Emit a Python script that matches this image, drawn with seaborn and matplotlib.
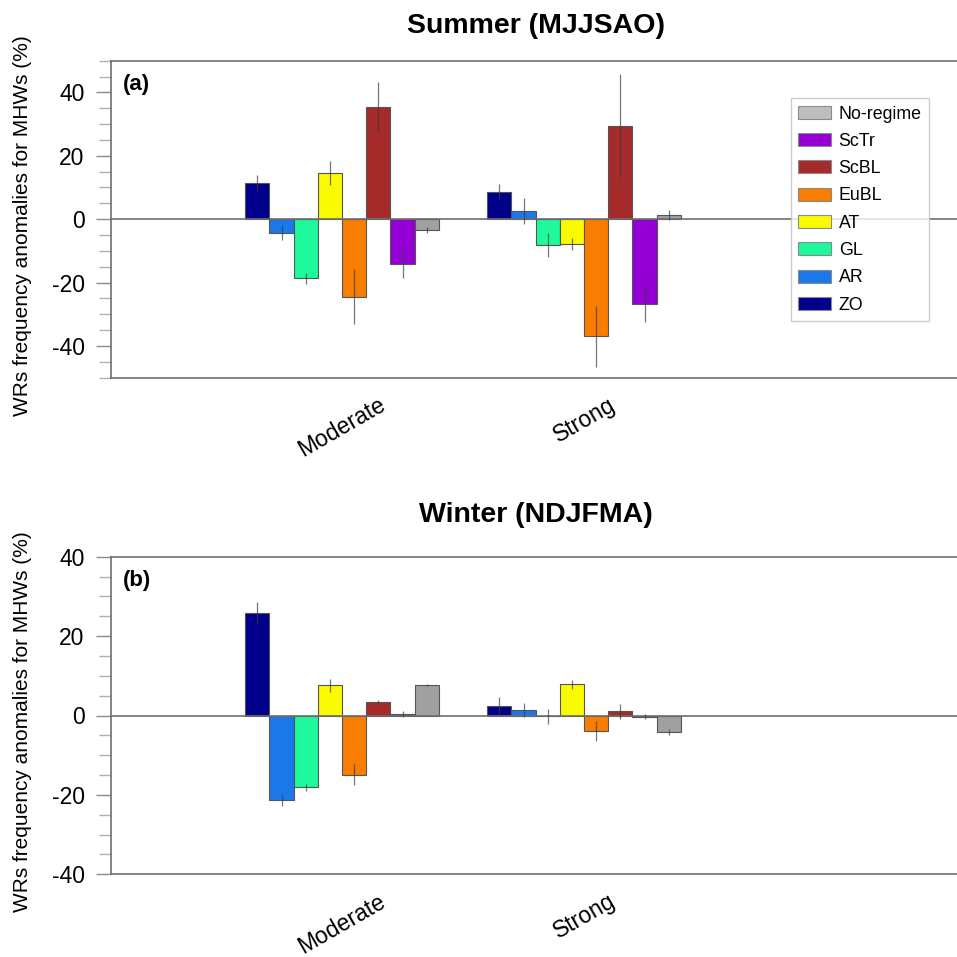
import numpy as np
import pandas as pd
import matplotlib
matplotlib.use("Agg")
import matplotlib.pyplot as plt
import seaborn as sns
from matplotlib.ticker import MultipleLocator
from matplotlib.patches import Patch

# ---------------- data ----------------
regimes = ["ZO", "AR", "GL", "AT", "EuBL", "ScBL", "ScTr", "No-regime"]
intensities = ["Moderate", "Strong"]
colors = ["#00008B", "#1C78E8", "#1EF99C", "#FAFA00", "#F87D00", "#A52A2A", "#9400D3", "#A0A0A0"]

summer_moderate = [11.4, -4.3, -18.7, 14.6, -24.4, 35.5, -14.1, -3.5]
summer_strong = [8.5, 2.6, -8.2, -7.9, -37.0, 29.5, -26.7, 1.4]
summer_moderate_err = [2.5, 2.4, 1.6, 3.7, 8.7, 7.9, 4.3, 1.0]
summer_strong_err = [2.5, 4.0, 3.7, 1.9, 9.7, 16.2, 5.7, 1.6]

winter_moderate = [25.8, -21.3, -18.1, 7.6, -14.9, 3.4, 0.3, 7.7]
winter_strong = [2.4, 1.3, -0.2, 7.9, -3.9, 1.1, -0.3, -4.2]
winter_moderate_err = [2.7, 1.5, 0.9, 1.7, 2.7, 0.6, 0.8, 0.3]
winter_strong_err = [2.2, 1.8, 1.9, 1.1, 2.5, 1.9, 0.6, 0.7]

titles = ["Summer (MJJSAO)", "Winter (NDJFMA)"]
panel_tags = ["(a)", "(b)"]
ylabel = "WRs frequency anomalies for MHWs (%)"

# ---------------- style ----------------
sns.set_theme(style="white")
plt.rcParams["font.family"] = ["Liberation Sans", "DejaVu Sans"]
plt.rcParams["axes.unicode_minus"] = False
plt.rcParams["text.color"] = "black"
plt.rcParams["axes.labelcolor"] = "black"
plt.rcParams["xtick.color"] = "black"
plt.rcParams["ytick.color"] = "black"

fig = plt.figure(figsize=(9.57, 9.57), dpi=100)
W = H = 957.0

def make_ax(left, top, right, bottom):
    return fig.add_axes([left / W, 1 - bottom / H, (right - left) / W, (bottom - top) / H])

ax_a = make_ax(111, 60.7, 961, 377.7)
ax_b = make_ax(111, 556.7, 961, 874.3)

spine_col = "#6e6e6e"

def build_df(mod, strong):
    rows = []
    for r, m, s in zip(regimes, mod, strong):
        rows.append({"intensity": "Moderate", "regime": r, "value": m})
        rows.append({"intensity": "Strong", "regime": r, "value": s})
    return pd.DataFrame(rows)

panels = [
    (ax_a, summer_moderate, summer_strong, summer_moderate_err, summer_strong_err, (-50, 50), 1.109, 0.926),
    (ax_b, winter_moderate, winter_strong, winter_moderate_err, winter_strong_err, (-40, 40), 1.131, 0.9235),
]

for i, (ax, mod, strong, emod, estr, ylim, ty, tagy) in enumerate(panels):
    df = build_df(mod, strong)
    sns.barplot(data=df, x="intensity", y="value", hue="regime", order=intensities,
                hue_order=regimes, palette=colors, width=0.8, errorbar=None,
                edgecolor="#555555", linewidth=0.8, saturation=1, ax=ax, legend=False)
    # error bars, located on the bars seaborn drew
    for k, cont in enumerate(ax.containers):
        vals = [mod[k], strong[k]]
        errs = [emod[k], estr[k]]
        for j, p in enumerate(cont.patches):
            xc = p.get_x() + p.get_width() / 2
            ax.vlines(xc, vals[j] - errs[j], vals[j] + errs[j], color="#3c3c3c",
                      lw=0.9, alpha=0.7, zorder=4)
    ax.axhline(0, color=spine_col, lw=1.2, zorder=1)
    ax.set_xlim(-0.955, 2.558)
    ax.set_ylim(*ylim)
    ax.yaxis.set_major_locator(MultipleLocator(20))
    ax.yaxis.set_minor_locator(MultipleLocator(5))
    ax.tick_params(axis="y", which="major", direction="out", length=11, width=1,
                   color="#8a8a8a", labelcolor="black", labelsize=16.5, pad=8, left=True)
    ax.tick_params(axis="y", which="minor", direction="out", length=9, width=1,
                   color="#b0b0b0", left=True)
    ax.tick_params(axis="x", length=0, pad=11, labelsize=16.5, labelcolor="black")
    ax.set_xticks(range(len(intensities)))
    ax.set_xticklabels(intensities, rotation=30, ha="center")
    ax.set_xlabel("")
    ax.set_ylabel(ylabel, fontsize=15, color="black")
    ax.yaxis.set_label_coords(-0.093, 0.48)
    for s in ["left", "top", "bottom"]:
        ax.spines[s].set_color(spine_col)
        ax.spines[s].set_linewidth(1.2)
    ax.spines["right"].set_visible(False)
    ax.text(0.5, ty, titles[i], transform=ax.transAxes, ha="center", va="center",
            fontsize=20.5, fontweight="bold", color="black")
    ax.text(0.0141, tagy, panel_tags[i], transform=ax.transAxes, ha="left", va="center",
            fontsize=16, fontweight="bold", color="black")

# legend on panel (a), reversed order
legend_colors = list(colors)
legend_colors[-1] = "#BEBEBE"
handles = [Patch(facecolor=c, edgecolor="#8a8a8a", linewidth=0.8, label=r)
           for r, c in zip(regimes, legend_colors)][::-1]
leg = ax_a.legend(handles=handles, loc="upper left", bbox_to_anchor=(0.7996, 0.881),
                  borderaxespad=0, frameon=True, fancybox=False, fontsize=12.8,
                  handlelength=1.85, handleheight=0.75, labelspacing=0.58,
                  handletextpad=0.45, borderpad=0.4)
for t in leg.get_texts():
    t.set_color("black")
leg.get_frame().set_edgecolor("#c0c0c0")
leg.get_frame().set_linewidth(1.0)

fig.savefig("out.png", dpi=100)
